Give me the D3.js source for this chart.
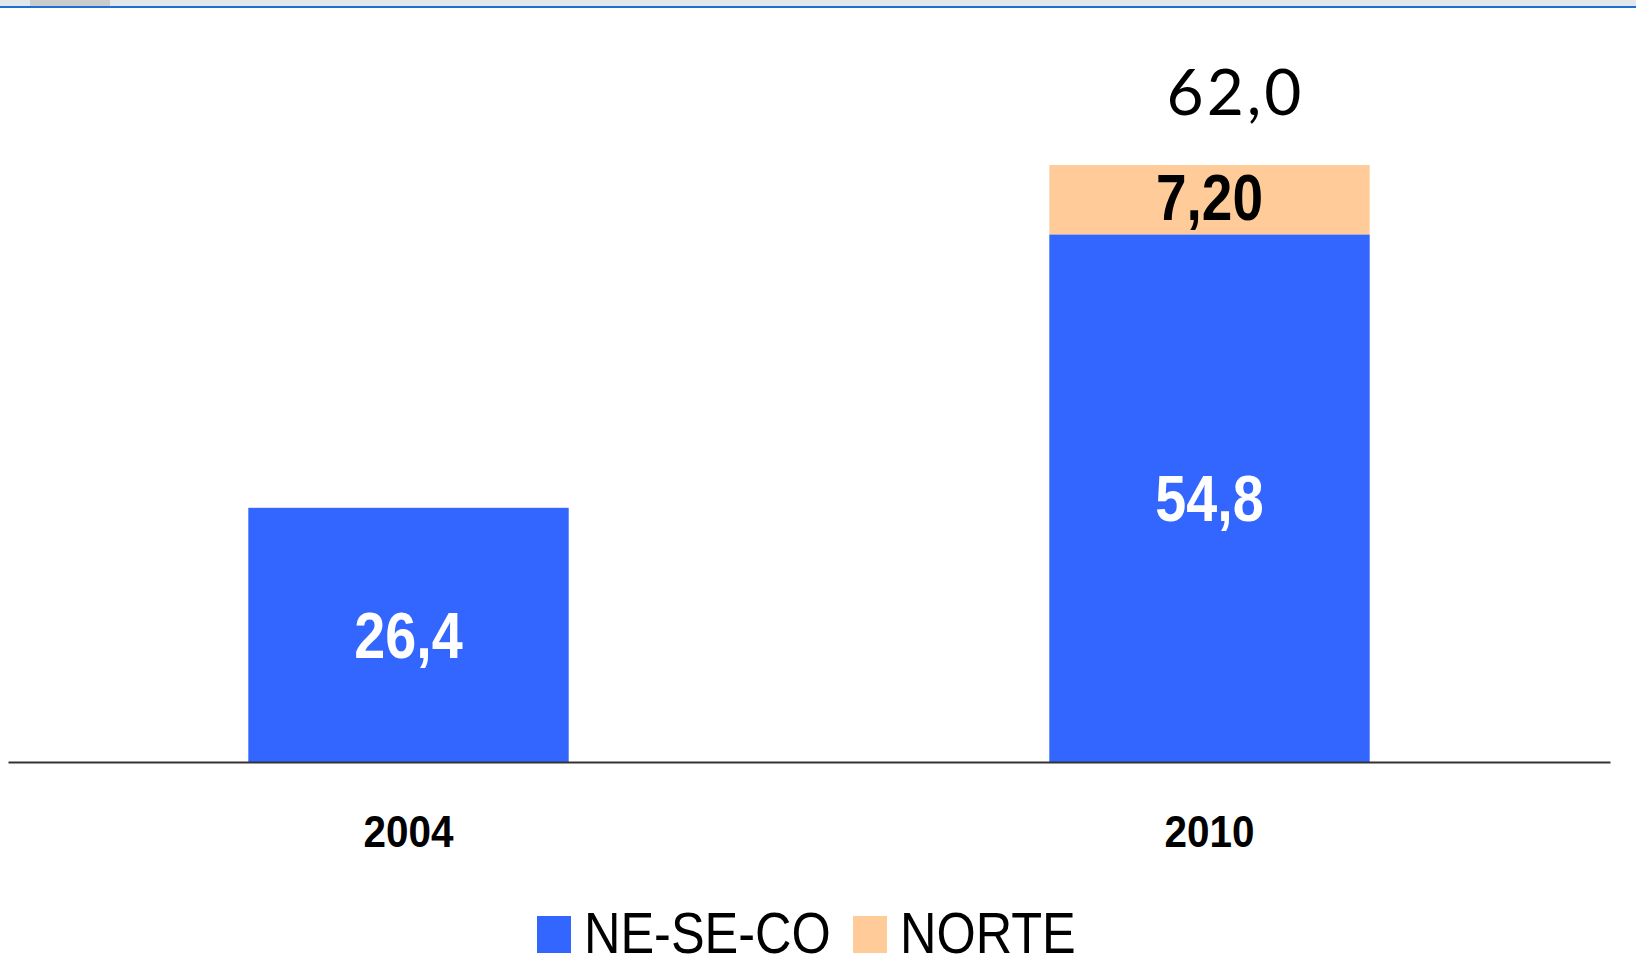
<!DOCTYPE html>
<html>
<head>
<meta charset="utf-8">
<script src="https://cdn.jsdelivr.net/npm/d3@7"></script>
<style>
  html, body { margin: 0; padding: 0; background: #fff; }
  svg { display: block; }
</style>
</head>
<body>
<div id="chart"></div>
<script>
// Stacked bars, two years, two regions
const years = ["2004", "2010"];
const seriesNames = ["NE-SE-CO", "NORTE"];
const neSeCo = [26.4, 54.8];
const norte = [0, 7.2];
const totals = [null, 62.0];
const norteLabels = ["", "7,20"];

const width = 1636,
      height = 980,
      baseY = 762,
      sans = "'Liberation Sans', Arial, sans-serif",
      colors = ["#3366ff", "#ffcc99"];

const fmt = v => d3.format(".1f")(v).replace(".", ",");

let svg = d3.select("#chart").append("svg")
    .attr("width", width)
    .attr("height", height);

// window strip at the top
svg.append("rect").attr("x", 0).attr("y", 0).attr("width", width).attr("height", 6).attr("fill", "#e3e6ea");
svg.append("rect").attr("x", 30).attr("y", 0).attr("width", 80).attr("height", 6).attr("fill", "#c9cbcd");
svg.append("rect").attr("x", 0).attr("y", 6).attr("width", width).attr("height", 2).attr("fill", "#1d6fd0");

// Scales
// ---------------------------------------------------------
let x = d3.scaleBand()
    .domain(years)
    .range([8, 1610])
    .paddingInner(0.6)
    .paddingOuter(0.3);

let y = d3.scaleLinear()
    .domain([0, 70])
    .range([baseY, baseY - 674]);

// stack data
let rows = years.map((yr, i) => ({ year: yr, "NE-SE-CO": neSeCo[i], "NORTE": norte[i] }));
let stacked = d3.stack().keys(seriesNames)(rows);

// Bars
// ---------------------------------------------------------
let layers = svg.selectAll(".layer")
    .data(stacked)
    .enter()
    .append("g")
    .attr("class", "layer")
    .attr("fill", (d, i) => colors[i]);

layers.selectAll("rect")
    .data(d => d.filter(p => p[1] - p[0] > 0))
    .enter()
    .append("rect")
    .attr("x", d => x(d.data.year))
    .attr("y", d => y(d[1]))
    .attr("width", x.bandwidth())
    .attr("height", d => y(d[0]) - y(d[1]));

// value labels inside segments (condensed look)
svg.selectAll(".valNe")
    .data(rows)
    .enter()
    .append("text")
    .attr("class", "valNe")
    .attr("transform", d => `translate(${x(d.year) + x.bandwidth() / 2},${(y(0) + y(d["NE-SE-CO"])) / 2 + 23}) scale(0.87,1)`)
    .attr("text-anchor", "middle")
    .attr("font-family", sans)
    .attr("font-weight", "bold")
    .attr("font-size", 64)
    .attr("fill", "#fff")
    .text(d => fmt(d["NE-SE-CO"]));

svg.selectAll(".valNorte")
    .data(rows.filter(d => d["NORTE"] > 0))
    .enter()
    .append("text")
    .attr("class", "valNorte")
    .attr("transform", d => `translate(${x(d.year) + x.bandwidth() / 2},${(y(d["NE-SE-CO"]) + y(d["NE-SE-CO"] + d["NORTE"])) / 2 + 20}) scale(0.86,1)`)
    .attr("text-anchor", "middle")
    .attr("font-family", sans)
    .attr("font-weight", "bold")
    .attr("font-size", 64)
    .attr("fill", "#000")
    .text(d => norteLabels[years.indexOf(d.year)]);

// totals above
svg.selectAll(".total")
    .data(years.map((yr, i) => ({ year: yr, v: totals[i] })).filter(d => d.v != null))
    .enter()
    .append("text")
    .attr("class", "total")
    .attr("x", d => x(d.year) + x.bandwidth() / 2 + 26)
    .attr("y", d => y(d.v) - 50)
    .attr("text-anchor", "middle")
    .attr("font-family", "Lato, 'DejaVu Sans', sans-serif")
    .attr("font-weight", 400)
    .attr("font-size", 64)
    .attr("letter-spacing", 3)
    .attr("fill", "#000")
    .text(d => fmt(d.v));

// Axis
// ---------------------------------------------------------
let xAxis = svg.append("g")
    .attr("transform", `translate(0,${baseY})`)
    .call(d3.axisBottom(x).tickSize(0).tickPadding(0));

xAxis.select(".domain")
    .attr("stroke", "#333")
    .attr("stroke-width", 2);

xAxis.selectAll(".tick text")
    .attr("dy", null)
    .attr("y", 0)
    .attr("transform", "translate(0,85) scale(0.92,1)")
    .attr("font-family", sans)
    .attr("font-weight", "bold")
    .attr("font-size", 44)
    .attr("fill", "#000");

// Legend
// ---------------------------------------------------------
const legendX = [537, 853];
let legend = svg.selectAll(".legend")
    .data(seriesNames)
    .enter()
    .append("g")
    .attr("class", "legend")
    .attr("transform", (d, i) => `translate(${legendX[i]},916)`);

legend.append("rect")
    .attr("width", 34)
    .attr("height", 37)
    .attr("fill", (d, i) => colors[i]);

legend.append("text")
    .attr("transform", "translate(47,37) scale(0.87,1)")
    .attr("font-family", sans)
    .attr("font-size", 58)
    .attr("fill", "#000")
    .text(d => d);
</script>
</body>
</html>
